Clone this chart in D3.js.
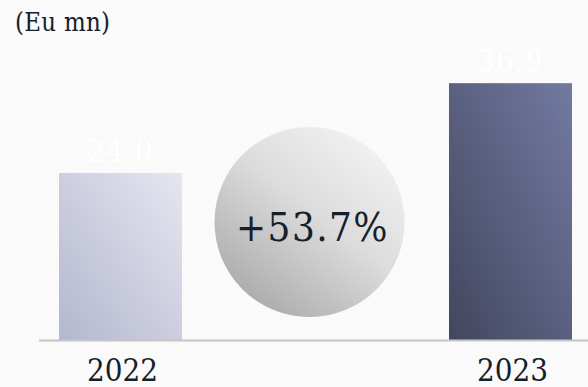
<!DOCTYPE html>
<html>
<head>
<meta charset="utf-8">
<script src="https://cdn.jsdelivr.net/npm/d3@7"></script>
<style>
  html, body { margin: 0; padding: 0; background: #fafafa; }
  svg { display: block; }
  text { font-family: "DejaVu Serif Condensed", "DejaVu Serif", serif; font-stretch: condensed; }
</style>
</head>
<body>
<svg id="chart" width="588" height="387"></svg>
<script>
// Revenue by year, in EUR millions
const years = ["2022", "2023"];
const revenue = [24.0, 36.9];
const growthLabel = "+53.7%";
const unitLabel = "(Eu mn)";

const svg = d3.select("#chart");
const W = 588, H = 387;

svg.append("rect").attr("width", W).attr("height", H).attr("fill", "#fafafa");

const x = d3.scaleBand().domain(years).range([59, 572]).paddingInner(0.6846).paddingOuter(0);
const y = d3.scaleLinear().domain([0, 40]).range([340, 61.6]);

const defs = svg.append("defs");
const grads = [
  { id: "g2022", from: "#b3b7cf", to: "#e6e6f0" },
  { id: "g2023", from: "#42465e", to: "#737aa1" }
];
grads.forEach(g => {
  const lg = defs.append("linearGradient").attr("id", g.id)
    .attr("x1", 0).attr("y1", 1).attr("x2", 1).attr("y2", 0);
  lg.append("stop").attr("offset", "0%").attr("stop-color", g.from);
  lg.append("stop").attr("offset", "100%").attr("stop-color", g.to);
});
const cg = defs.append("linearGradient").attr("id", "gcircle")
  .attr("x1", 0.15).attr("y1", 0.95).attr("x2", 0.85).attr("y2", 0.05);
cg.append("stop").attr("offset", "0%").attr("stop-color", "#a8a8a8");
cg.append("stop").attr("offset", "55%").attr("stop-color", "#dcdcdc");
cg.append("stop").attr("offset", "100%").attr("stop-color", "#f3f3f3");

// unit caption
svg.append("text")
  .attr("x", 15).attr("y", 31)
  .attr("font-size", 25.5)
  .attr("letter-spacing", 0.3)
  .attr("fill", "#15202b")
  .text(unitLabel);

// bars
svg.selectAll("rect.bar").data(years).enter().append("rect")
  .attr("class", "bar")
  .attr("x", d => x(d))
  .attr("width", x.bandwidth())
  .attr("y", (d, i) => y(revenue[i]))
  .attr("height", (d, i) => y(0) - y(revenue[i]))
  .attr("fill", d => `url(#g${d})`);

// value labels above bars
svg.selectAll("text.val").data(years).enter().append("text")
  .attr("class", "val")
  .attr("x", d => x(d) + x.bandwidth() / 2)
  .attr("y", (d, i) => y(revenue[i]) - 11)
  .attr("text-anchor", "middle")
  .attr("font-size", 31)
  .attr("letter-spacing", 1.3)
  .attr("fill", "#ffffff")
  .text((d, i) => revenue[i].toFixed(1));

// baseline
svg.append("line")
  .attr("x1", 39).attr("x2", W)
  .attr("y1", y(0) + 0.5).attr("y2", y(0) + 0.5)
  .attr("stroke", "#c6c6c6").attr("stroke-width", 2);

// year labels
svg.selectAll("text.year").data(years).enter().append("text")
  .attr("class", "year")
  .attr("x", d => x(d) + x.bandwidth() / 2 + 2)
  .attr("y", 381)
  .attr("text-anchor", "middle")
  .attr("font-size", 31)
  .attr("fill", "#15202b")
  .text(d => d);

// growth bubble between the bars
const cx = (x(years[0]) + x.bandwidth() + x(years[1])) / 2 - 6;
svg.append("circle")
  .attr("cx", cx).attr("cy", 222).attr("r", 95)
  .attr("fill", "url(#gcircle)");
svg.append("text")
  .attr("x", cx + 3).attr("y", 241)
  .attr("text-anchor", "middle")
  .attr("font-size", 40)
  .attr("letter-spacing", 1.4)
  .attr("fill", "#15202b")
  .text(growthLabel);
</script>
</body>
</html>
